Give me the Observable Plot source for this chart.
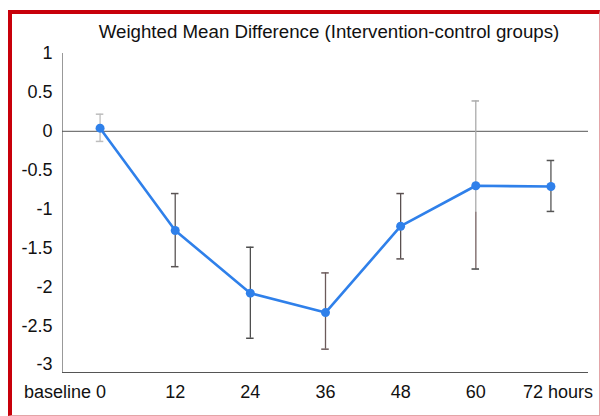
<!DOCTYPE html>
<html><head><meta charset="utf-8">
<script src="https://cdn.jsdelivr.net/npm/d3@7"></script>
<script src="https://cdn.jsdelivr.net/npm/@observablehq/plot@0.6"></script>
<style>
body{margin:0;background:#fff;font-family:"Liberation Sans",Arial,sans-serif;}
#wrap{position:relative;width:600px;height:416px;overflow:hidden;background:#fff;}
#frame{position:absolute;left:8px;top:10px;width:592px;height:406px;box-sizing:border-box;
  border-left:4px solid #c8000a;border-top:4px solid #c8000a;border-right:1px solid #e4a4a8;border-bottom:1px solid #e4a4a8;}
#title{position:absolute;left:0;width:658px;top:21px;text-align:center;font-size:18.7px;line-height:21px;color:#111;}
#chart{position:absolute;left:0;top:0;}
</style></head>
<body>
<div id="wrap">
  <div id="frame"></div>
  <div id="chart"></div>
  <div id="title">Weighted Mean Difference (Intervention-control groups)</div>
</div>
<script>
const hours = [0, 12, 24, 36, 48, 60, 72];
const wmd   = [0.04, -1.275, -2.08, -2.33, -1.22, -0.70, -0.71];
const upper = [0.22, -0.80, -1.49, -1.82, -0.80, 0.39, -0.375];
const lower = [-0.13, -1.74, -2.66, -2.80, -1.64, -1.77, -1.03];
const barColors = ["#bdbdbd", "#5a5454", "#4f4f4f", "#6b5a5a", "#5a5050", "#ababab", "#555555"];
// darker lower stretch of the 60-hour whisker
const darkHour = [60];
const darkTop = [-1.04];
const darkBottom = [-1.77];
const yTicks = [1, 0.5, 0, -0.5, -1, -1.5, -2, -2.5, -3];
const xLabels = ["baseline 0", "12", "24", "36", "48", "60", "72 hours"];
const yMin = -3.1, yMax = 1;

const data = hours.map((h, i) => ({h, v: wmd[i], hi: upper[i], lo: lower[i], c: barColors[i], t: xLabels[i]}));
const dark = darkHour.map((h, i) => ({h, hi: darkTop[i], lo: darkBottom[i]}));
const mid = data.filter(d => d.h !== 0 && d.h !== 72);
const first = data.filter(d => d.h === 0);
const last = data.filter(d => d.h === 72);
const capHalf = 0.6;

const chart = Plot.plot({
  width: 600, height: 416,
  marginLeft: 62, marginRight: 12, marginTop: 53, marginBottom: 44,
  style: {fontFamily: '"Liberation Sans", Arial, sans-serif', color: "#111", background: "transparent"},
  x: {domain: [-6, 78], axis: null},
  y: {domain: [yMin, yMax]},
  marks: [
    Plot.axisY({ticks: yTicks, tickSize: 0, tickPadding: 10, fontSize: 18, tickFormat: d => String(d), label: null}),
    Plot.ruleX([-6], {stroke: "#999", strokeWidth: 1}),
    Plot.ruleY([yMin], {stroke: "#555", strokeWidth: 1}),
    Plot.ruleY([0], {stroke: "#555", strokeWidth: 1}),
    Plot.ruleX(data, {x: "h", y1: "lo", y2: "hi", stroke: "c", strokeWidth: 1.3}),
    Plot.ruleX(dark, {x: "h", y1: "lo", y2: "hi", stroke: "#8c7878", strokeWidth: 1.3}),
    Plot.ruleY(data, {y: "hi", x1: d => d.h - capHalf, x2: d => d.h + capHalf, stroke: "c", strokeWidth: 1.5}),
    Plot.ruleY(data, {y: "lo", x1: d => d.h - capHalf, x2: d => d.h + capHalf, stroke: d => d.h === 60 ? "#444" : d.c, strokeWidth: 1.5}),
    Plot.line(data, {x: "h", y: "v", stroke: "#2f80ea", strokeWidth: 2.6}),
    Plot.dot(data, {x: "h", y: "v", r: 4.5, fill: "#2f80ea"}),
    Plot.text(mid, {x: "h", y: () => yMin, text: "t", dy: 20, fontSize: 18, fill: "#111"}),
    Plot.text(first, {x: "h", y: () => yMin, text: "t", dy: 20, dx: 6, textAnchor: "end", fontSize: 18, fill: "#111"}),
    Plot.text(last, {x: "h", y: () => yMin, text: "t", dy: 20, dx: 7, fontSize: 18, fill: "#111"})
  ]
});
document.getElementById("chart").appendChild(chart);
</script>
</body></html>
